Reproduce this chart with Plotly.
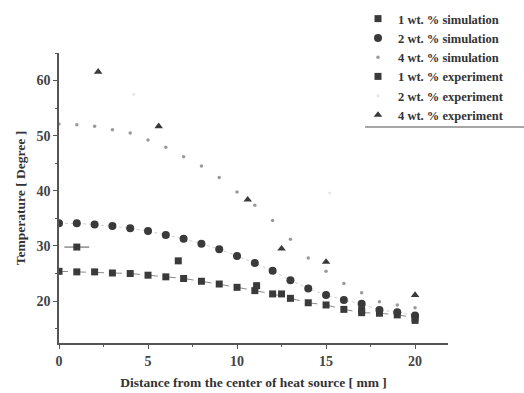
import plotly.graph_objects as go

# ---- data ----
sim_x = list(range(0, 21))
sim_1wt = [25.4, 25.3, 25.3, 25.1, 25.0, 24.7, 24.4, 24.1, 23.6, 23.1, 22.5,
           21.9, 21.3, 20.5, 19.7, 19.3, 18.5, 17.9, 17.8, 17.5, 17.0]
sim_2wt = [34.1, 34.1, 33.9, 33.6, 33.2, 32.7, 32.0, 31.3, 30.4, 29.4, 28.2,
           26.9, 25.5, 23.8, 22.3, 21.1, 20.2, 19.5, 18.4, 18.0, 17.4]
sim_4wt = [52.1, 52.0, 51.7, 51.1, 50.5, 49.2, 47.9, 46.2, 44.5, 42.4, 39.8,
           37.4, 34.6, 31.2, 27.8, 25.4, 23.2, 21.5, 19.9, 19.3, 18.8]

exp1_x = [1.0, 6.7, 11.1, 12.5, 17.0, 20.0]
exp1_y = [29.8, 27.3, 22.8, 21.3, 18.4, 16.5]
exp2_x = [4.2, 15.2]
exp2_y = [57.5, 39.6]
exp4_x = [2.2, 5.6, 10.6, 12.5, 15.0, 20.0]
exp4_y = [61.6, 51.7, 38.4, 29.5, 27.1, 21.1]

legend_names = ["1 wt. % simulation", "2 wt. % simulation", "4 wt. % simulation",
                "1 wt. % experiment", "2 wt. % experiment", "4 wt. % experiment"]
x_ticks = [0, 5, 10, 15, 20]
y_ticks = [20, 30, 40, 50, 60]

dark = "#3a3a3a"
fig = go.Figure()

# connecting lines (no legend)
fig.add_trace(go.Scatter(x=sim_x, y=sim_1wt, mode="lines", showlegend=False,
                         line=dict(color="#8a8a8a", width=1, dash="dash"), hoverinfo="skip"))
fig.add_trace(go.Scatter(x=sim_x, y=sim_2wt, mode="lines", showlegend=False,
                         line=dict(color="#d0d0d0", width=1, dash="dot"), hoverinfo="skip"))

fig.add_trace(go.Scatter(x=sim_x, y=sim_1wt, mode="markers", name="<b>" + legend_names[0] + "</b>",
                         marker=dict(symbol="square", size=7, color=dark)))
fig.add_trace(go.Scatter(x=sim_x, y=sim_2wt, mode="markers", name="<b>" + legend_names[1] + "</b>",
                         marker=dict(symbol="circle", size=8, color=dark)))
fig.add_trace(go.Scatter(x=sim_x, y=sim_4wt, mode="markers", name="<b>" + legend_names[2] + "</b>",
                         marker=dict(symbol="circle", size=3.5, color="#9a9a9a")))
fig.add_trace(go.Scatter(x=exp1_x, y=exp1_y, mode="markers", name="<b>" + legend_names[3] + "</b>",
                         marker=dict(symbol="square", size=7, color=dark),
                         error_x=dict(type="data", array=[0.7, 0, 0, 0, 0, 0],
                                      color="#555", thickness=1, width=0)))
fig.add_trace(go.Scatter(x=exp2_x, y=exp2_y, mode="markers", name="<b>" + legend_names[4] + "</b>",
                         marker=dict(symbol="circle", size=3, color="#e6e6e6")))
fig.add_trace(go.Scatter(x=exp4_x, y=exp4_y, mode="markers", name="<b>" + legend_names[5] + "</b>",
                         marker=dict(symbol="triangle-up", size=7.5, color=dark)))

font_family = "Liberation Serif, Times New Roman, serif"
axis_common = dict(showgrid=False, zeroline=False, showline=True, linecolor="#555",
                   linewidth=1.5, ticks="outside", tickcolor="#555", ticklen=4,
                   tickwidth=1.2, mirror=False, automargin=False,
                   tickfont=dict(family=font_family, size=14, color="#444"))

fig.update_layout(
    width=524, height=393,
    margin=dict(l=59, r=76, t=53, b=50, autoexpand=False),
    paper_bgcolor="white", plot_bgcolor="white",
    font=dict(family=font_family, color="#333"),
    xaxis=dict(range=[0, 21.85], tickvals=x_ticks,
               ticktext=[f"<b>{v}</b>" for v in x_ticks],
               minor=dict(dtick=2.5, tick0=0, ticks="outside", ticklen=2, tickcolor="#555"),
               title=dict(text="<b>Distance from the center of heat source [ mm ]</b>",
                          font=dict(family=font_family, size=13.5, color="#333"), standoff=10),
               **axis_common),
    yaxis=dict(range=[12.4, 65], tickvals=y_ticks,
               ticktext=[f"<b>{v}</b>" for v in y_ticks],
               minor=dict(dtick=5, tick0=0, ticks="outside", ticklen=2, tickcolor="#555"),
               title=dict(text="<b>Temperature [ Degree ]</b>",
                          font=dict(family=font_family, size=13.5, color="#333"), standoff=8),
               **axis_common),
    legend=dict(x=358 / 524, y=1 - 4 / 393, xref="container", yref="container",
                xanchor="left", yanchor="top",
                bgcolor="rgba(0,0,0,0)", borderwidth=0, tracegroupgap=0,
                font=dict(family=font_family, size=12.5, color="#333"),
                itemwidth=30),
    shapes=[dict(type="line", xref="paper", yref="paper",
                 x0=0.787, x1=1.2, y0=0.745, y1=0.745,
                 line=dict(color="#888", width=1.5))],
)

fig.write_html("out.html", post_script="document.body.style.margin='0px';",
               config={"displayModeBar": False})
